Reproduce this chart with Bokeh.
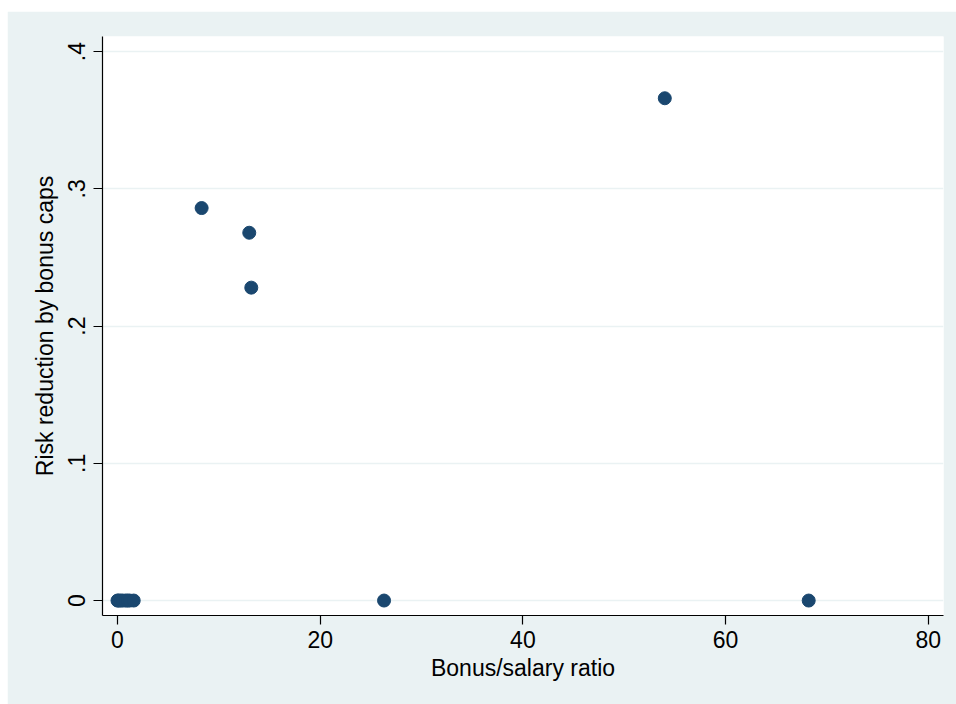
from bokeh.plotting import figure
from bokeh.models import FixedTicker, Range1d
from bokeh.embed import file_html
from bokeh.resources import INLINE

# Data
bonus_salary_ratio = [0.0, 0.1, 0.3, 0.5, 0.8, 1.0, 1.2, 1.6, 8.3, 13.0, 13.2, 26.3, 54.0, 68.2]
risk_reduction = [0.0, 0.0, 0.0, 0.0, 0.0, 0.0, 0.0, 0.0, 0.286, 0.268, 0.228, 0.0, 0.366, 0.0]

x_ticks = [0, 20, 40, 60, 80]
y_ticks = [0, 0.1, 0.2, 0.3, 0.4]
y_tick_labels = {0: "0", 0.1: ".1", 0.2: ".2", 0.3: ".3", 0.4: ".4"}

BG = "#EAF2F3"
NAVY = "#1A476F"
FONT = "Liberation Sans"
FS = "23px"

p = figure(width=949, height=693, output_backend="svg", toolbar_location=None,
           x_range=Range1d(-1.48, 81.5), y_range=Range1d(-0.0109, 0.411),
           min_border_left=95, min_border_top=25, min_border_right=13, min_border_bottom=89,
           margin=(11, 0, 0, 7))

p.background_fill_color = "white"
p.border_fill_color = BG
p.outline_line_color = None

p.scatter(bonus_salary_ratio, risk_reduction, size=13, color=NAVY, line_color=NAVY)

p.xaxis.ticker = FixedTicker(ticks=x_ticks)
p.yaxis.ticker = FixedTicker(ticks=y_ticks)
p.yaxis.major_label_overrides = y_tick_labels
p.yaxis.major_label_orientation = "vertical"

for ax in (p.xaxis, p.yaxis):
    ax.axis_line_color = "black"
    ax.axis_line_width = 1.2
    ax.major_tick_line_color = "black"
    ax.major_tick_line_width = 1.2
    ax.major_tick_out = 9
    ax.major_tick_in = 0
    ax.minor_tick_line_color = None
    ax.major_label_text_font = FONT
    ax.major_label_text_font_size = FS
    ax.major_label_text_color = "black"
    ax.axis_label_text_font = FONT
    ax.axis_label_text_font_size = FS
    ax.axis_label_text_font_style = "normal"
    ax.axis_label_text_color = "black"

p.xaxis.axis_label = "Bonus/salary ratio"
p.yaxis.axis_label = "Risk reduction by bonus caps"
p.xaxis.major_label_standoff = 6
p.xaxis.axis_label_standoff = 4
p.yaxis.major_label_standoff = 8
p.yaxis.axis_label_standoff = 8

p.xgrid.grid_line_color = None
p.ygrid.grid_line_color = BG
p.ygrid.grid_line_width = 1.5

open("out.html", "w").write(file_html(p, INLINE))
